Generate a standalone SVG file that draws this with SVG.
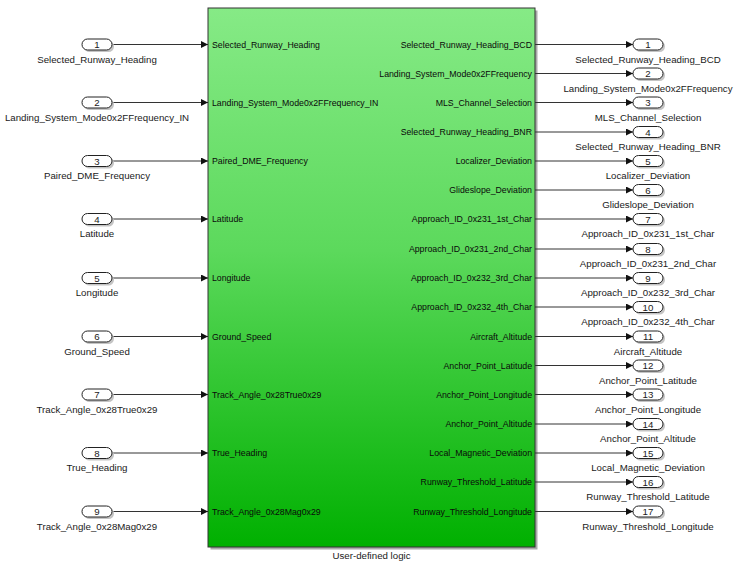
<svg xmlns="http://www.w3.org/2000/svg" width="736" height="566" viewBox="0 0 736 566">
<defs>
<linearGradient id="g" x1="0" y1="0" x2="0" y2="1">
<stop offset="0" stop-color="#86EA86"/>
<stop offset="0.45" stop-color="#5CD95C"/>
<stop offset="1" stop-color="#00B000"/>
</linearGradient>
<marker id="ah" markerWidth="8" markerHeight="8" refX="7" refY="3.5" orient="auto" markerUnits="userSpaceOnUse">
<path d="M0,0 L7,3.5 L0,7 Z" fill="#111"/>
</marker>
</defs>
<style>
text{font-family:"Liberation Sans",Arial,sans-serif;fill:#1a1a1a}
.lbl{font-size:9.7px;text-anchor:middle}
.num{font-size:9.7px;text-anchor:middle}
.in{font-size:8.75px;text-anchor:start;fill:#0a0a0a}
.out{font-size:8.75px;text-anchor:end;fill:#0a0a0a}
.sh{fill:#c4c4c4}
.ov{fill:#fff;stroke:#222;stroke-width:1}
.w{stroke:#333;stroke-width:1;fill:none;marker-end:url(#ah)}
</style>
<g id="block">
<rect x="210.5" y="10.5" width="327" height="539" fill="#aaaaaa"/>
<rect x="208" y="8" width="327" height="539" fill="url(#g)" stroke="#333" stroke-width="1"/>
<text class="in" x="212" y="47.5">Selected_Runway_Heading</text>
<text class="in" x="212" y="105.5">Landing_System_Mode0x2FFrequency_IN</text>
<text class="in" x="212" y="164">Paired_DME_Frequency</text>
<text class="in" x="212" y="222">Latitude</text>
<text class="in" x="212" y="281">Longitude</text>
<text class="in" x="212" y="339.5">Ground_Speed</text>
<text class="in" x="212" y="397.5">Track_Angle_0x28True0x29</text>
<text class="in" x="212" y="456">True_Heading</text>
<text class="in" x="212" y="514.5">Track_Angle_0x28Mag0x29</text>
<text class="out" x="532" y="47.5">Selected_Runway_Heading_BCD</text>
<text class="out" x="532" y="76.5">Landing_System_Mode0x2FFrequency</text>
<text class="out" x="532" y="105.5">MLS_Channel_Selection</text>
<text class="out" x="532" y="135">Selected_Runway_Heading_BNR</text>
<text class="out" x="532" y="164">Localizer_Deviation</text>
<text class="out" x="532" y="193">Glideslope_Deviation</text>
<text class="out" x="532" y="222">Approach_ID_0x231_1st_Char</text>
<text class="out" x="532" y="252">Approach_ID_0x231_2nd_Char</text>
<text class="out" x="532" y="281">Approach_ID_0x232_3rd_Char</text>
<text class="out" x="532" y="310">Approach_ID_0x232_4th_Char</text>
<text class="out" x="532" y="339.5">Aircraft_Altitude</text>
<text class="out" x="532" y="368.5">Anchor_Point_Latitude</text>
<text class="out" x="532" y="397.5">Anchor_Point_Longitude</text>
<text class="out" x="532" y="427">Anchor_Point_Altitude</text>
<text class="out" x="532" y="456">Local_Magnetic_Deviation</text>
<text class="out" x="532" y="485">Runway_Threshold_Latitude</text>
<text class="out" x="532" y="514.5">Runway_Threshold_Longitude</text>
<text class="lbl" x="371.5" y="559">User-defined logic</text>
</g>
<g id="connectors">
<path class="w" d="M112,44.5 H208"/>
<path class="w" d="M112,102.5 H208"/>
<path class="w" d="M112,161 H208"/>
<path class="w" d="M112,219 H208"/>
<path class="w" d="M112,278 H208"/>
<path class="w" d="M112,336.5 H208"/>
<path class="w" d="M112,394.5 H208"/>
<path class="w" d="M112,453 H208"/>
<path class="w" d="M112,511.5 H208"/>
<path class="w" d="M535,44.5 H633"/>
<path class="w" d="M535,73.5 H633"/>
<path class="w" d="M535,102.5 H633"/>
<path class="w" d="M535,132 H633"/>
<path class="w" d="M535,161 H633"/>
<path class="w" d="M535,190 H633"/>
<path class="w" d="M535,219 H633"/>
<path class="w" d="M535,249 H633"/>
<path class="w" d="M535,278 H633"/>
<path class="w" d="M535,307 H633"/>
<path class="w" d="M535,336.5 H633"/>
<path class="w" d="M535,365.5 H633"/>
<path class="w" d="M535,394.5 H633"/>
<path class="w" d="M535,424 H633"/>
<path class="w" d="M535,453 H633"/>
<path class="w" d="M535,482 H633"/>
<path class="w" d="M535,511.5 H633"/>
</g>
<g id="in1"><rect class="sh" x="84" y="41" width="30" height="11" rx="5.5"/><rect class="ov" x="82" y="39" width="30" height="11" rx="5.5"/><text class="num" x="97" y="48">1</text><text class="lbl" x="97" y="62.5">Selected_Runway_Heading</text></g>
<g id="in2"><rect class="sh" x="84" y="99" width="30" height="11" rx="5.5"/><rect class="ov" x="82" y="97" width="30" height="11" rx="5.5"/><text class="num" x="97" y="106">2</text><text class="lbl" x="97" y="120.5">Landing_System_Mode0x2FFrequency_IN</text></g>
<g id="in3"><rect class="sh" x="84" y="157.5" width="30" height="11" rx="5.5"/><rect class="ov" x="82" y="155.5" width="30" height="11" rx="5.5"/><text class="num" x="97" y="164.5">3</text><text class="lbl" x="97" y="179">Paired_DME_Frequency</text></g>
<g id="in4"><rect class="sh" x="84" y="215.5" width="30" height="11" rx="5.5"/><rect class="ov" x="82" y="213.5" width="30" height="11" rx="5.5"/><text class="num" x="97" y="222.5">4</text><text class="lbl" x="97" y="237">Latitude</text></g>
<g id="in5"><rect class="sh" x="84" y="274.5" width="30" height="11" rx="5.5"/><rect class="ov" x="82" y="272.5" width="30" height="11" rx="5.5"/><text class="num" x="97" y="281.5">5</text><text class="lbl" x="97" y="296">Longitude</text></g>
<g id="in6"><rect class="sh" x="84" y="333" width="30" height="11" rx="5.5"/><rect class="ov" x="82" y="331" width="30" height="11" rx="5.5"/><text class="num" x="97" y="340">6</text><text class="lbl" x="97" y="354.5">Ground_Speed</text></g>
<g id="in7"><rect class="sh" x="84" y="391" width="30" height="11" rx="5.5"/><rect class="ov" x="82" y="389" width="30" height="11" rx="5.5"/><text class="num" x="97" y="398">7</text><text class="lbl" x="97" y="412.5">Track_Angle_0x28True0x29</text></g>
<g id="in8"><rect class="sh" x="84" y="449.5" width="30" height="11" rx="5.5"/><rect class="ov" x="82" y="447.5" width="30" height="11" rx="5.5"/><text class="num" x="97" y="456.5">8</text><text class="lbl" x="97" y="471">True_Heading</text></g>
<g id="in9"><rect class="sh" x="84" y="508" width="30" height="11" rx="5.5"/><rect class="ov" x="82" y="506" width="30" height="11" rx="5.5"/><text class="num" x="97" y="515">9</text><text class="lbl" x="97" y="529.5">Track_Angle_0x28Mag0x29</text></g>
<g id="out1"><rect class="sh" x="635" y="41" width="30" height="11" rx="5.5"/><rect class="ov" x="633" y="39" width="30" height="11" rx="5.5"/><text class="num" x="648" y="48">1</text><text class="lbl" x="648" y="62.5">Selected_Runway_Heading_BCD</text></g>
<g id="out2"><rect class="sh" x="635" y="70" width="30" height="11" rx="5.5"/><rect class="ov" x="633" y="68" width="30" height="11" rx="5.5"/><text class="num" x="648" y="77">2</text><text class="lbl" x="648" y="91.5">Landing_System_Mode0x2FFrequency</text></g>
<g id="out3"><rect class="sh" x="635" y="99" width="30" height="11" rx="5.5"/><rect class="ov" x="633" y="97" width="30" height="11" rx="5.5"/><text class="num" x="648" y="106">3</text><text class="lbl" x="648" y="120.5">MLS_Channel_Selection</text></g>
<g id="out4"><rect class="sh" x="635" y="128.5" width="30" height="11" rx="5.5"/><rect class="ov" x="633" y="126.5" width="30" height="11" rx="5.5"/><text class="num" x="648" y="135.5">4</text><text class="lbl" x="648" y="150">Selected_Runway_Heading_BNR</text></g>
<g id="out5"><rect class="sh" x="635" y="157.5" width="30" height="11" rx="5.5"/><rect class="ov" x="633" y="155.5" width="30" height="11" rx="5.5"/><text class="num" x="648" y="164.5">5</text><text class="lbl" x="648" y="179">Localizer_Deviation</text></g>
<g id="out6"><rect class="sh" x="635" y="186.5" width="30" height="11" rx="5.5"/><rect class="ov" x="633" y="184.5" width="30" height="11" rx="5.5"/><text class="num" x="648" y="193.5">6</text><text class="lbl" x="648" y="208">Glideslope_Deviation</text></g>
<g id="out7"><rect class="sh" x="635" y="215.5" width="30" height="11" rx="5.5"/><rect class="ov" x="633" y="213.5" width="30" height="11" rx="5.5"/><text class="num" x="648" y="222.5">7</text><text class="lbl" x="648" y="237">Approach_ID_0x231_1st_Char</text></g>
<g id="out8"><rect class="sh" x="635" y="245.5" width="30" height="11" rx="5.5"/><rect class="ov" x="633" y="243.5" width="30" height="11" rx="5.5"/><text class="num" x="648" y="252.5">8</text><text class="lbl" x="648" y="267">Approach_ID_0x231_2nd_Char</text></g>
<g id="out9"><rect class="sh" x="635" y="274.5" width="30" height="11" rx="5.5"/><rect class="ov" x="633" y="272.5" width="30" height="11" rx="5.5"/><text class="num" x="648" y="281.5">9</text><text class="lbl" x="648" y="296">Approach_ID_0x232_3rd_Char</text></g>
<g id="out10"><rect class="sh" x="635" y="303.5" width="30" height="11" rx="5.5"/><rect class="ov" x="633" y="301.5" width="30" height="11" rx="5.5"/><text class="num" x="648" y="310.5">10</text><text class="lbl" x="648" y="325">Approach_ID_0x232_4th_Char</text></g>
<g id="out11"><rect class="sh" x="635" y="333" width="30" height="11" rx="5.5"/><rect class="ov" x="633" y="331" width="30" height="11" rx="5.5"/><text class="num" x="648" y="340">11</text><text class="lbl" x="648" y="354.5">Aircraft_Altitude</text></g>
<g id="out12"><rect class="sh" x="635" y="362" width="30" height="11" rx="5.5"/><rect class="ov" x="633" y="360" width="30" height="11" rx="5.5"/><text class="num" x="648" y="369">12</text><text class="lbl" x="648" y="383.5">Anchor_Point_Latitude</text></g>
<g id="out13"><rect class="sh" x="635" y="391" width="30" height="11" rx="5.5"/><rect class="ov" x="633" y="389" width="30" height="11" rx="5.5"/><text class="num" x="648" y="398">13</text><text class="lbl" x="648" y="412.5">Anchor_Point_Longitude</text></g>
<g id="out14"><rect class="sh" x="635" y="420.5" width="30" height="11" rx="5.5"/><rect class="ov" x="633" y="418.5" width="30" height="11" rx="5.5"/><text class="num" x="648" y="427.5">14</text><text class="lbl" x="648" y="442">Anchor_Point_Altitude</text></g>
<g id="out15"><rect class="sh" x="635" y="449.5" width="30" height="11" rx="5.5"/><rect class="ov" x="633" y="447.5" width="30" height="11" rx="5.5"/><text class="num" x="648" y="456.5">15</text><text class="lbl" x="648" y="471">Local_Magnetic_Deviation</text></g>
<g id="out16"><rect class="sh" x="635" y="478.5" width="30" height="11" rx="5.5"/><rect class="ov" x="633" y="476.5" width="30" height="11" rx="5.5"/><text class="num" x="648" y="485.5">16</text><text class="lbl" x="648" y="500">Runway_Threshold_Latitude</text></g>
<g id="out17"><rect class="sh" x="635" y="508" width="30" height="11" rx="5.5"/><rect class="ov" x="633" y="506" width="30" height="11" rx="5.5"/><text class="num" x="648" y="515">17</text><text class="lbl" x="648" y="529.5">Runway_Threshold_Longitude</text></g>
</svg>
